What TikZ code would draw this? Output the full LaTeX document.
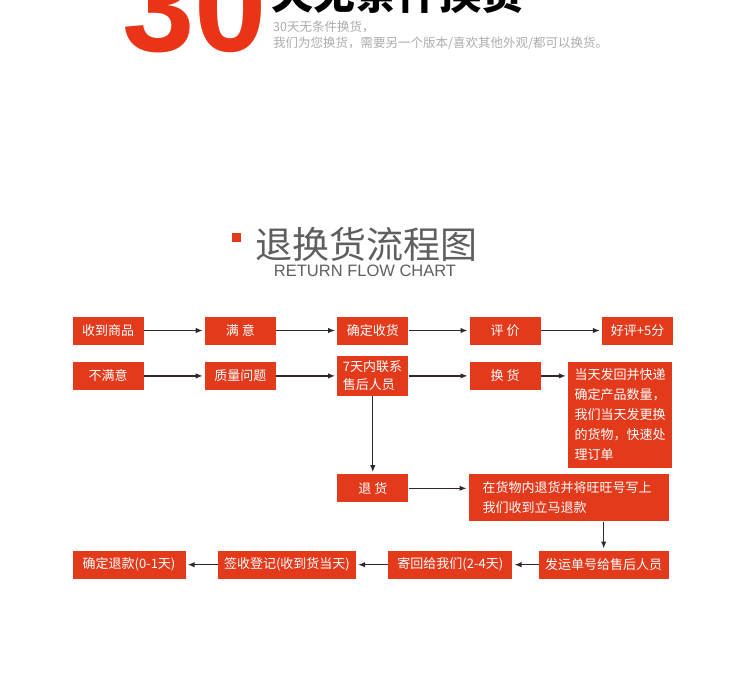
\documentclass[tikz,border=0pt]{standalone}
\usepackage{fontspec}
\setmainfont{Liberation Sans}
\newfontfamily\cjk{Noto Sans CJK SC}
\usetikzlibrary{arrows.meta,positioning}
\definecolor{boxred}{RGB}{228,58,28}
\definecolor{logored}{RGB}{234,52,24}
\definecolor{linedark}{RGB}{50,38,38}
\definecolor{subgray}{RGB}{172,172,172}
\definecolor{titlegray}{RGB}{95,95,95}
\tikzset{
  box/.style={fill=boxred, text=white, inner sep=0pt, minimum width=71pt,
              minimum height=28pt, align=center, font=\cjk\fontsize{13}{18}\selectfont},
  notebox/.style={box, align=left, font=\cjk\fontsize{13}{20}\selectfont},
  subline/.style={anchor=base west, inner sep=0pt, text=subgray,
                  font=\cjk\fontsize{12.5}{14}\selectfont},
  arrow/.style={-{Latex[length=7pt,width=5.5pt]}, line width=1.3pt, draw=linedark,
                shorten >=2pt}
}
\begin{document}
\begin{tikzpicture}[x=1pt, y=-1pt, node distance=61pt]
  \useasboundingbox[fill=white] (0,0) rectangle (750,682);
  \clip (0,0) rectangle (750,682);
  % header strip, cut at the top
  \node[anchor=base west, inner sep=0pt, text=logored,
        font=\bfseries\fontsize{130}{130}\selectfont] (big) at (122,52) {30};
  \node[anchor=base west, inner sep=0pt,
        font=\cjk\bfseries\fontsize{42}{42}\selectfont] (slogan) at (271,10) {天无条件换货};
  \node[subline] (sub1) at (273,32) {30天无条件换货，};
  \node[subline] (sub2) at (273,48) {我们为您换货，需要另一个版本/喜欢其他外观/都可以换货。};
  % title
  \node[fill=boxred, minimum size=8.5pt, inner sep=0pt] (mark) at (236.5,237.5) {};
  \node[text=titlegray, inner sep=0pt, font=\cjk\fontsize{37}{37}\selectfont] (title) at (366.5,244) {退换货流程图};
  \node[text=titlegray, inner sep=0pt, font=\fontsize{16.5}{16.5}\selectfont] (subtitle) at (365,271) {RETURN FLOW CHART};
  % row 1
  \node[box] (shouhuo) at (108,330.5) {收到商品};
  \node[box, right=of shouhuo] (manyi) {满 意};
  \node[box, right=of manyi] (queding) {确定收货};
  \node[box, right=of queding] (pingjia) {评 价};
  \node[box, right=of pingjia] (haoping) {好评+5分};
  % row 2
  \node[box, below=17pt of shouhuo] (bumanyi) {不满意};
  \node[box, right=of bumanyi] (zhiliang) {质量问题};
  \node[box, right=of zhiliang, minimum height=40pt, text width=60pt, align=left] (lianxi) {7天内联系\\售后人员};
  \node[box, right=of lianxi] (huanhuo) {换 货};
  \node[notebox, right=27pt of huanhuo.north east, anchor=north west,
        minimum width=104pt, minimum height=106pt, text width=91pt] (dangtian)
        {当天发回并快递\\确定产品数量，\\我们当天发更换\\的货物，快速处\\理订单};
  % row 3
  \node[box, below=78pt of lianxi] (tuihuo) {退 货};
  \node[notebox, right=60pt of tuihuo.north east, anchor=north west,
        minimum width=200pt, minimum height=47pt, text width=172pt] (zaihuo)
        {在货物内退货并将旺旺号写上\\我们收到立马退款};
  % row 4, right to left
  \node[box, below=29pt of zaihuo.south east, anchor=north east, minimum width=130pt] (fayun) {发运单号给售后人员};
  \node[box, left=26pt of fayun, minimum width=124pt] (jihui) {寄回给我们(2-4天)};
  \node[box, left=32pt of jihui, minimum width=138pt] (qianshou) {签收登记(收到货当天)};
  \node[box, left=32pt of qianshou, minimum width=113pt] (tuikuan) {确定退款(0-1天)};
  % connectors
  \foreach \u/\v in {shouhuo/manyi,manyi/queding,queding/pingjia,pingjia/haoping,
                     bumanyi/zhiliang,zhiliang/lianxi,lianxi/huanhuo,lianxi/tuihuo,
                     fayun/jihui,jihui/qianshou,qianshou/tuikuan}
    \draw[arrow] (\u)--(\v);
  \draw[arrow] (huanhuo)--(huanhuo -| dangtian.west);
  \draw[arrow] (tuihuo)--(tuihuo -| zaihuo.west);
  \draw[arrow] (zaihuo.south -| fayun.north)--(fayun.north);
\end{tikzpicture}
\end{document}
